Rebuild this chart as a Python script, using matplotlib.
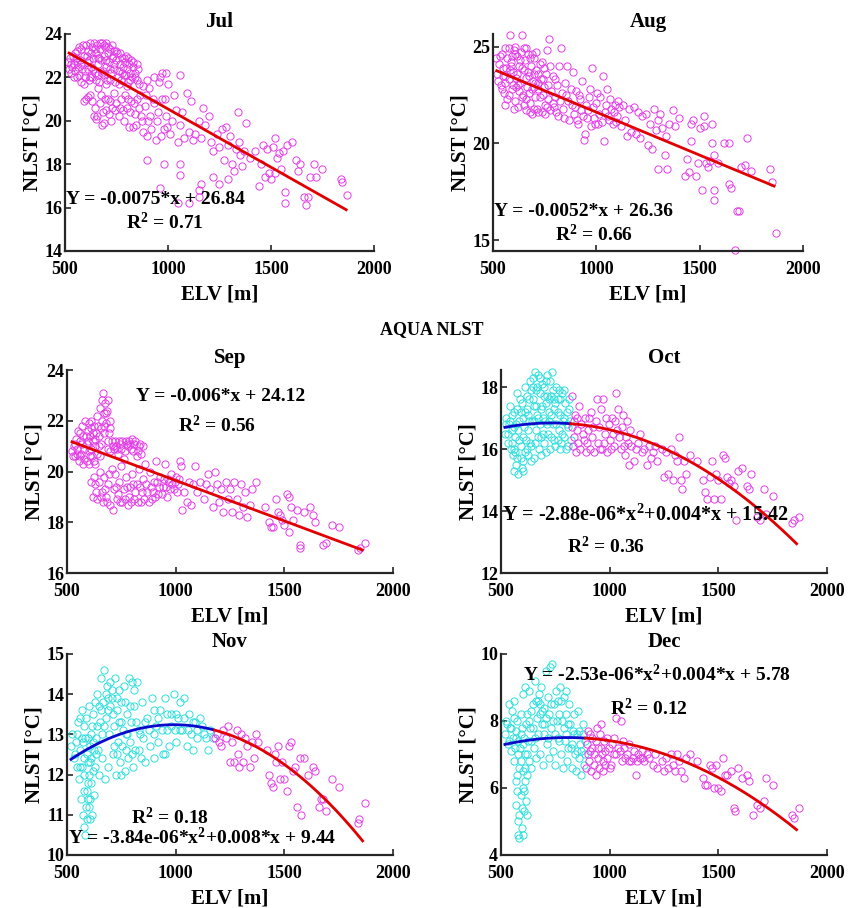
import numpy as np
import matplotlib
matplotlib.use('Agg')
import matplotlib.pyplot as plt

# ---- data (ELV [m], NLST [degC]) ----
JUL_PTS = [(515,22.7),(520,22.4),(525,22.9),(530,22.2),(540,23.0),(545,22.6),(550,22.3),(555,22.9),(560,23.2),(565,22.5),
           (570,22.1),(575,22.8),(580,23.3),(585,22.4),(590,23.0),(595,22.0),(600,23.5),(605,22.7),(610,23.2),(615,21.9),
           (620,23.6),(625,22.5),(630,23.4),(635,22.9),(640,23.6),(645,22.2),(650,23.1),(655,23.5),(660,22.6),(665,21.8),
           (670,23.3),(675,22.8),(680,23.6),(685,22.3),(690,23.0),(695,23.4),(700,22.5),(705,21.9),(710,23.1),(715,22.7),
           (720,23.3),(725,22.2),(730,22.9),(735,23.0),(740,22.4),(745,21.8),(750,22.8),(755,23.1),(760,22.3),(765,22.6),
           (770,21.9),(775,22.9),(780,22.5),(785,22.1),(790,22.7),(795,23.0),(800,22.4),(805,21.8),(810,22.6),(815,22.2),
           (820,22.8),(825,22.0),(830,22.5),(840,22.2),(850,21.9),(855,22.4),(860,21.7),(560,22.0),(590,21.7),(610,22.4),
           (630,22.0),(650,21.9),(665,22.9),(690,22.1),(700,23.6),(720,21.9),(740,23.2),
           (535,22.5),(548,23.1),(558,22.7),(568,23.4),(578,22.6),(588,23.5),(598,22.3),(608,23.0),(618,22.8),(628,23.1),
           (638,22.4),(648,23.3),(658,22.9),(668,23.6),(678,22.2),(688,23.5),(698,22.8),(708,23.4),(718,22.4),(728,23.5),
           (738,22.6),(748,23.2),(758,22.0),(768,23.1),(778,22.2),(788,22.9),(798,22.1),(808,22.9),(818,21.9),(828,22.7),
           (838,22.0),(848,22.6),(620,22.0),(660,22.1),(700,21.7),(760,21.7),(800,21.6),(580,21.8),(545,22.0),(530,22.6),
           (590,20.9),(600,21.0),(620,21.2),(640,20.2),(650,20.1),(660,21.5),(670,20.8),(680,19.8),(690,19.9),(700,20.5),
           (710,21.0),(715,20.3),(720,20.9),(730,20.6),(740,21.3),(750,20.8),(760,20.2),(770,21.0),(780,20.5),(790,21.2),
           (800,20.6),(810,19.7),(820,20.9),(830,19.7),(840,20.3),(850,21.0),(860,20.6),(870,20.2),(880,19.5),(890,20.7),
           (900,19.3),(905,20.0),(910,21.5),(920,19.6),(930,20.8),(940,19.1),(950,20.4),(955,21.8),(960,22.0),(970,21.0),
           (980,19.6),(990,20.2),(1000,21.7),(1010,19.4),(1020,20.0),(1030,21.2),(1040,20.5),(1050,19.0),(1060,22.1),
           (1060,19.8),(1070,20.4),(1080,19.2),(1090,21.3),(1100,19.5),(1110,20.9),(1120,19.1),(1130,19.4),
           (610,21.1),(630,20.9),(645,20.6),(655,20.2),(675,21.2),(685,20.4),(695,21.0),(725,20.0),(745,20.5),(765,20.6),
           (785,20.0),(805,21.0),(815,20.4),(835,20.8),(845,19.8),(865,21.2),(875,20.0),(895,21.2),(915,20.2),(925,21.0),
           (945,20.0),(965,19.3),(985,21.0),(995,19.7),
           (880,21.6),(900,21.9),(930,22.0),(970,22.2),(990,22.2),
           (1150,20.0),(1160,19.2),(1170,20.6),(1180,19.8),(1200,20.2),(1210,19.0),(1220,18.6),(1240,19.4),(1250,18.8),
           (1260,19.6),(1270,18.2),(1280,19.7),(1290,18.9),(1300,19.3),(1310,18.0),(1320,17.7),(1330,18.7),(1340,20.4),
           (1345,19.0),(1350,18.4),(1360,17.9),(1370,18.6),(1380,19.9),(1400,18.3),(1420,18.6),(1440,17.0),(1450,18.0),
           (1460,18.9),(1470,17.4),(1480,18.7),(1490,17.6),(1500,17.3),(1510,18.8),(1520,19.2),(1520,17.6),(1530,18.3),
           (1540,18.5),(1550,17.8),(1560,18.6),(1570,16.7),(1570,16.2),(1580,18.9),(1600,19.0),(1620,18.2),(1630,17.7),
           (1640,18.0),(1660,16.5),(1670,16.1),(1680,16.5),(1690,17.4),(1710,18.0),(1720,17.4),(1750,17.8),(1840,17.3),
           (1845,17.2),(1870,16.6),
           (900,18.2),(980,18.0),(1060,17.5),(1060,18.0),(960,16.9),(1050,16.2),(1100,16.2),(1150,16.5),(1160,17.1),
           (1150,16.8),(1220,17.4),(1250,17.1),(1290,17.3)]

AUG_PTS = [(515,24.4),(520,23.6),(530,24.1),(540,23.0),(545,24.6),(550,23.5),(555,22.6),(560,24.9),(565,23.9),(570,22.3),
           (575,23.3),(580,25.6),(585,24.2),(590,22.8),(595,23.7),(600,24.8),(605,22.2),(610,23.4),(615,24.5),(620,21.9),
           (625,24.0),(630,23.1),(635,24.7),(640,25.6),(645,22.5),(650,23.8),(655,24.3),(660,21.7),(665,22.9),(670,24.6),
           (675,23.5),(680,22.1),(685,24.0),(690,21.5),(695,23.2),(700,24.4),(705,22.4),(710,23.8),(715,21.8),(720,22.8),
           (725,24.1),(730,23.3),(735,21.6),(740,22.5),(745,23.9),(750,22.0),(760,24.8),(765,23.0),(770,25.4),(775,21.7),
           (780,22.7),(790,23.5),(795,21.9),(800,22.4),(560,22.0),(600,21.8),(620,23.0),(660,23.4),(700,21.8),(720,23.6),
           (750,21.5),(640,22.4),(580,23.8),(690,24.6),
           (525,23.2),(535,24.5),(548,23.9),(558,23.1),(568,24.4),(578,22.5),(588,24.0),(598,23.0),(608,24.6),(618,23.6),
           (628,22.7),(638,23.9),(648,24.9),(658,22.3),(668,23.7),(678,24.4),(688,22.8),(698,23.6),(708,24.7),(718,23.1),
           (728,22.4),(738,24.2),(748,22.9),(758,23.6),(768,22.3),(778,24.0),(788,22.1),(798,23.3),(575,24.9),(605,25.0),
           (660,24.9),(700,22.9),(740,23.3),(760,21.9),(720,21.6),(680,21.6),(650,22.0),(610,22.9),(590,24.5),(630,24.3),
           (675,22.6),(705,23.1),(560,23.5),(545,22.8),
           (810,23.0),(815,21.4),(820,24.0),(825,22.2),(830,24.9),(840,21.8),(850,23.1),(855,22.5),(860,24.0),(870,21.2),
           (880,22.0),(885,23.7),(890,21.5),(900,22.7),(910,21.0),(920,22.3),(930,23.2),(935,21.4),(940,20.2),(945,20.5),
           (950,22.0),(960,21.7),(970,22.8),(975,20.9),(980,23.9),(990,21.3),(1000,22.1),(1010,21.0),(1020,22.4),
           (1030,23.5),(1035,20.1),(1040,21.6),(1050,22.8),(1060,21.2),(1070,21.8),(1080,21.0),(1090,22.0),(1100,21.4),
           (805,21.6),(835,22.6),(845,21.3),(865,22.2),(875,22.8),(895,21.9),(905,21.2),(915,22.5),(925,21.7),(955,21.3),
           (965,22.4),(985,21.9),(995,21.0),(1005,22.6),(1015,21.5),(1025,21.1),(1045,22.0),(1055,21.4),(1065,22.3),
           (1085,21.6),(1095,21.1),(1105,22.2),
           (1110,21.9),(1120,20.9),(1130,22.0),(1140,21.2),(1150,20.4),(1160,21.8),(1170,20.6),(1180,21.9),(1190,20.5),
           (1200,21.6),(1210,20.3),(1220,21.4),(1240,21.5),(1250,19.9),(1260,21.0),(1270,19.7),(1280,21.8),(1290,20.7),
           (1300,18.7),(1300,21.2),(1310,21.5),(1320,20.8),(1330,19.4),(1335,20.4),(1340,18.7),(1350,21.0),(1370,21.7),
           (1380,20.9),(1400,21.3),(1430,18.3),(1440,19.2),(1450,18.5),(1460,21.0),(1460,20.1),(1470,21.2),(1480,18.3),
           (1490,19.0),(1500,20.8),(1510,17.6),(1520,21.4),(1520,20.9),(1530,19.0),(1540,18.8),(1550,19.1),(1560,21.0),
           (1560,20.0),(1570,19.4),(1570,17.1),(1570,17.6),(1590,19.0),(1620,20.0),(1640,20.0),(1640,17.9),(1650,17.7),
           (1680,16.5),(1690,16.5),(1700,18.8),(1720,18.9),(1730,20.3),(1750,18.6),(1840,18.7),(1850,18.0),(1870,15.4),
           (1670,14.5)]

SEP_PTS = [(525,20.8),(530,21.0),(535,20.6),(540,21.3),(545,20.9),(550,21.6),(555,20.4),(560,21.2),(565,20.7),(570,21.8),
           (575,21.4),(580,20.5),(585,22.0),(590,21.1),(595,21.6),(600,20.8),(605,21.4),(610,22.0),(615,20.6),(620,21.2),
           (625,21.8),(630,20.3),(635,21.5),(640,22.2),(645,21.0),(650,22.5),(655,21.7),(660,22.8),(665,23.1),(670,22.3),
           (675,22.7),(680,21.9),(685,22.4),(690,22.8),(695,21.5),(700,22.0),(590,20.4),(610,20.9),(630,21.0),(560,20.6),
           (600,21.9),
           (528,20.6),(538,21.1),(548,20.7),(558,21.5),(568,21.1),(578,20.9),(588,21.4),(598,21.2),(608,20.6),(618,21.5),
           (628,21.3),(638,20.7),(648,21.4),(658,21.1),(668,21.8),(678,22.3),(688,21.2),(698,21.7),(612,21.7),(622,20.4),
           (642,21.8),(602,20.3),(572,20.3),(652,20.6),(662,22.0),(672,21.5),
           (705,21.2),(715,20.9),(725,21.0),(735,20.7),(745,21.1),(755,21.2),(765,20.8),(775,21.1),(785,21.2),(795,20.9),
           (800,21.3),(810,21.1),(820,20.6),(830,21.0),(840,20.7),(850,21.0),(760,20.5),
           (710,21.0),(720,21.2),(730,20.9),(740,21.2),(750,20.9),(770,21.2),(780,21.0),(790,21.1),(805,20.8),(815,21.2),
           (825,20.8),(835,21.1),(700,20.8),(690,20.9),
           (610,19.6),(620,19.0),(630,19.5),(640,18.9),(650,20.0),(660,19.2),(665,18.8),(670,19.8),(680,19.0),(690,19.5),
           (700,18.7),(705,20.1),(710,18.5),(715,19.3),(720,19.9),(730,18.9),(740,19.6),(750,20.2),(755,18.8),(760,19.3),
           (770,19.8),(780,18.7),(790,19.4),(800,19.9),(810,18.9),(820,19.5),(830,20.1),(840,18.8),(850,19.7),(860,20.3),
           (870,19.2),(880,20.0),(890,18.9),(900,19.6),(910,20.4),(920,19.1),(930,19.8),(940,19.4),(950,20.3),(960,19.0),
           (625,19.8),(635,19.2),(645,19.6),(655,19.0),(675,19.3),(685,18.8),(695,19.9),(725,19.4),(735,19.1),(745,18.8),
           (765,18.9),(775,19.4),(785,19.0),(795,18.8),(805,19.5),(815,19.2),(825,18.8),(835,19.4),(845,19.2),(855,18.9),
           (865,19.5),(875,18.8),(885,19.4),(895,19.2),(905,19.0),(915,19.6),(925,19.4),(935,19.1),(945,19.7),(955,19.4),
           (965,19.7),(975,19.3),(985,19.5),(995,19.6),(1005,19.2),(1015,19.7),
           (970,19.6),(980,19.9),(990,19.3),(1000,19.8),(1010,19.5),(1020,20.4),(1025,20.2),(1030,18.5),(1040,19.2),
           (1050,18.8),(1060,19.6),(1070,18.7),(1080,19.5),(1090,20.2),(1100,19.2),(1110,19.6),(1130,18.9),(1140,19.5),
           (1150,19.9),(1160,19.3),(1170,18.6),(1180,20.0),(1190,19.5),(1200,18.8),(1210,19.3),(1220,18.4),(1230,19.6),
           (1240,18.9),(1250,19.3),(1260,18.4),(1270,19.6),(1280,18.9),(1290,18.3),(1300,19.5),(1310,18.6),(1320,19.2),
           (1330,18.2),(1340,18.7),(1350,19.3),(1370,19.6),(1410,18.6),(1430,18.0),(1440,17.8),(1450,17.8),(1460,18.9),
           (1470,18.4),(1480,18.3),(1490,18.1),(1500,17.9),(1510,19.1),(1520,19.0),(1520,17.6),(1530,18.6),(1540,18.1),
           (1560,18.5),(1570,17.0),(1570,17.1),(1590,18.4),(1620,18.6),(1630,18.3),(1640,18.0),(1680,17.1),(1690,17.2),
           (1720,17.9),(1750,17.8),(1840,16.9),(1850,17.0),(1870,17.2)]

OCT_CYAN = [(520,16.5),(525,17.0),(530,16.2),(535,16.8),(540,17.4),(545,16.0),(550,16.6),(555,15.8),(560,17.2),(565,16.4),
            (570,15.5),(575,17.8),(580,15.2),(585,16.9),(590,16.1),(595,17.5),(600,15.6),(605,16.7),(610,18.0),(615,16.3),
            (620,17.3),(625,15.8),(630,16.9),(635,18.2),(640,16.1),(645,17.6),(650,15.7),(655,18.5),(660,16.6),(665,17.1),
            (670,18.4),(675,16.0),(680,17.8),(685,16.4),(690,18.1),(695,17.0),(700,16.2),(705,17.5),(710,18.4),(715,16.5),
            (720,17.2),(725,16.0),(730,17.7),(735,18.5),(740,16.8),(745,17.3),(750,16.1),(755,18.0),(760,17.6),(765,16.6),
            (770,17.1),(775,16.2),(780,17.8),(785,16.9),(790,16.4),(795,17.5),(800,16.0),(805,17.2),(810,16.7),(815,17.6),
            (820,16.3),(560,16.0),(580,16.6),(600,17.0),(620,16.0),(640,17.9),(660,17.4),(680,16.8),(700,17.7),(720,16.9),
            (740,17.9),(760,16.3),(790,17.9),(810,16.1),(590,17.2),(610,15.9),(630,17.6),(650,16.9),(670,16.4),(690,17.4),
            (710,16.8),(730,16.4),(750,17.5),(770,16.0),(550,17.1),(570,16.8),(600,15.3),(625,17.1),(655,16.2),(645,18.3),
            (665,18.0),(700,18.0),(725,18.2),(705,15.9),(685,15.8),(640,15.6),(560,15.3),
            (522,16.8),(532,16.5),(542,16.9),(552,16.2),(562,16.7),(572,17.3),(582,16.3),(592,15.7),(602,16.4),(612,17.2),
            (622,16.6),(632,16.2),(642,16.9),(652,17.4),(662,17.9),(672,17.0),(682,17.3),(692,16.5),(702,16.9),(712,17.7),
            (722,17.6),(732,17.1),(742,16.3),(752,16.8),(762,17.2),(772,17.6),(782,16.5),(792,17.0),(802,16.8),(812,17.3),
            (818,16.9),(588,17.6),(618,17.7),(648,18.0),(678,18.3),(708,18.2),(742,17.6),(768,17.9),(595,15.4),(575,15.7),
            (565,15.9)]

OCT_MAG = [(825,17.7),(830,16.1),(835,16.9),(840,17.1),(845,15.9),(850,16.6),(860,17.4),(865,16.0),(870,16.8),(880,16.3),
           (885,17.0),(890,15.9),(900,16.6),(910,16.0),(915,17.2),(920,16.4),(930,15.9),(935,16.9),(940,17.6),(945,16.2),
           (950,16.7),(960,17.3),(965,16.0),(970,17.6),(980,16.5),(985,17.0),(990,15.9),(1000,16.3),(1010,17.0),(1020,16.1),
           (1030,17.8),(1035,16.6),(1040,17.3),(1050,16.0),(1060,17.1),(1070,15.8),(1075,16.4),(1080,16.9),(1090,15.5),
           (828,16.7),(838,16.4),(848,17.0),(855,16.2),(875,16.5),(895,16.2),(905,17.0),(925,16.7),(955,16.0),(975,16.2),
           (995,16.8),(1005,16.0),(1015,16.5),(1025,16.9),(1045,16.4),(1055,16.7),(1065,16.1),(1085,16.2),(1095,16.6),
           (1120,16.0),
           (1100,16.1),(1110,15.6),(1130,16.2),(1140,16.5),(1150,15.9),(1160,16.0),(1170,15.5),(1180,16.1),(1190,15.7),
           (1200,15.9),(1210,16.1),(1220,15.6),(1240,16.0),(1250,15.1),(1260,15.9),(1270,15.2),(1280,16.0),(1290,15.0),
           (1300,15.8),(1310,15.6),(1320,16.4),(1330,15.0),(1335,14.7),(1340,15.6),(1350,15.2),(1370,15.8),(1400,15.6),
           (1430,15.0),(1440,14.6),(1450,14.4),(1460,15.1),(1470,15.6),(1480,14.4),(1490,15.2),(1500,15.0),(1510,14.4),
           (1520,15.8),(1530,15.7),(1540,15.1),(1550,14.9),(1560,15.0),(1570,14.8),(1580,13.7),(1590,15.3),(1610,15.4),
           (1630,14.8),(1640,14.7),(1650,15.2),(1680,13.8),(1690,13.7),(1710,14.7),(1720,13.9),(1750,14.5),(1840,13.6),
           (1850,13.7),(1870,13.8)]

NOV_CYAN = [(520,12.7),(525,13.0),(530,12.4),(540,12.8),(545,12.2),(550,13.3),(555,11.9),(560,12.6),(565,11.4),(570,13.6),
            (575,11.0),(580,12.0),(580,10.7),(585,12.9),(590,11.6),(590,10.9),(595,12.3),(600,13.7),(600,11.2),(605,12.7),
            (610,11.8),(615,13.2),(620,12.1),(625,11.5),(630,13.8),(635,12.5),(640,14.0),(645,12.0),(650,13.3),(655,14.4),
            (660,12.4),(665,13.8),(670,14.6),(675,11.9),(680,13.4),(685,14.2),(690,12.2),(695,13.0),(700,13.7),(705,14.1),
            (710,12.5),(715,13.2),(720,14.4),(725,12.0),(730,13.6),(735,12.8),(740,14.1),(745,12.3),(750,13.3),(755,12.7),
            (760,14.2),(765,12.1),(770,13.0),(775,13.5),(780,12.4),(785,14.4),(790,12.8),(795,13.3),(800,14.3),(805,12.2),
            (810,13.7),(815,12.6),(820,14.3),(830,13.1),(840,12.4),(845,13.8),(850,12.9),(860,12.3),(870,13.4),(880,12.7),
            (890,13.9),(900,12.4),(910,13.2),(920,12.8),(930,13.6),(940,12.5),(950,13.9),(960,13.1),(970,12.7),(980,13.5),
            (990,14.0),(1000,12.8),(1010,13.4),(1020,13.8),(1030,13.1),(1040,13.9),(1050,12.7),(1060,13.5),(1070,13.0),
            (1080,12.6),(1090,13.3),(1100,12.9),(1110,13.4),(1130,13.0),(1150,12.6),(1160,13.1),(1170,12.9),
            (590,12.5),(600,12.0),(610,13.0),(570,12.2),(580,13.2),(620,13.5),(560,13.4),(595,11.4),(605,10.9),(615,11.0),
            (585,10.5),(660,13.0),(690,13.9),(710,13.5),(730,12.5),(750,12.0),(770,12.6),(830,12.6),(900,13.0),(950,12.5),
            (1000,13.5),
            (535,12.5),(548,13.0),(558,12.2),(568,12.9),(578,12.4),(588,13.4),(598,12.9),(608,12.3),(618,12.8),(628,12.2),
            (638,13.2),(648,13.7),(658,13.6),(668,13.2),(678,14.0),(688,13.6),(698,14.3),(708,13.9),(718,12.7),(728,13.9),
            (738,13.3),(748,13.8),(758,13.1),(768,13.8),(778,13.0),(788,13.7),(798,12.5),(808,14.1),(818,13.3),(838,13.0),
            (858,13.3),(878,13.1),(898,13.6),(918,13.4),(938,13.1),(958,13.5),(978,13.2),(998,13.1),(1018,13.1),(1038,13.4),
            (1058,13.1),(1078,13.3),(1098,13.1),(1120,13.2),(1140,12.9),(598,11.8),(608,11.4),(612,12.4),(588,11.2),
            (578,11.6),(622,12.6),(632,12.9),(642,12.6),(572,12.8)]

NOV_MAG = [(1180,12.9),(1190,13.0),(1200,12.8),(1210,12.7),(1220,13.1),(1230,12.9),(1240,13.2),(1250,12.3),(1260,12.8),
           (1270,12.3),(1280,13.1),(1285,12.5),(1290,12.2),(1300,13.0),(1310,12.3),(1320,12.9),(1330,12.7),(1340,12.2),
           (1350,12.8),(1360,12.4),(1370,13.0),(1380,12.8),(1420,12.6),(1430,12.0),(1440,11.8),(1450,11.7),(1455,12.5),
           (1460,12.3),(1470,12.7),(1480,11.9),(1490,12.3),(1500,11.9),(1510,11.6),(1520,12.7),(1530,12.8),(1540,12.1),
           (1550,12.2),(1560,11.2),(1570,12.4),(1575,11.0),(1590,12.4),(1610,12.0),(1630,12.2),(1640,12.1),(1660,11.2),
           (1670,11.4),(1680,11.4),(1690,11.1),(1720,11.9),(1750,11.7),(1840,10.8),(1845,10.9),(1870,11.3)]

DEC_CYAN = [(520,7.6),(525,8.0),(530,7.3),(535,8.5),(540,7.8),(545,7.1),(550,8.3),(555,7.5),(560,6.8),(560,8.6),(565,7.2),
            (570,6.2),(570,5.5),(575,8.0),(580,5.0),(580,4.6),(585,6.6),(590,7.6),(590,5.8),(595,4.8),(600,8.8),(600,6.0),
            (605,5.3),(610,7.0),(610,9.0),(615,5.6),(620,6.4),(620,8.2),(625,7.4),(630,6.8),(630,8.9),(635,7.8),(640,6.6),
            (645,8.5),(650,7.2),(655,9.2),(660,6.9),(665,8.1),(670,7.6),(675,8.8),(680,7.0),(685,9.0),(690,7.9),(695,6.7),
            (700,8.4),(705,9.5),(710,7.3),(715,8.7),(720,6.9),(725,9.6),(730,7.8),(735,9.7),(740,7.1),(745,8.5),(750,6.7),
            (755,8.9),(760,7.5),(765,8.2),(770,9.0),(775,7.0),(780,8.0),(785,6.6),(790,8.7),(795,7.4),(800,8.9),(805,6.8),
            (810,7.9),(815,8.5),(820,7.2),(825,6.6),(830,7.7),(835,8.2),(840,7.0),(845,6.5),(850,7.6),(855,8.3),(860,6.9),
            (865,7.3),(870,6.4),(875,7.9),(880,6.7),(885,7.4),(580,7.0),(590,8.2),(600,7.3),(615,7.9),(640,7.4),(660,8.6),
            (680,8.2),(700,7.6),(720,8.2),(760,8.6),(800,7.6),(600,4.6),(585,4.5),(575,5.9),(610,6.2),(620,5.2),
            (528,7.9),(538,7.4),(548,7.8),(558,8.1),(568,7.7),(578,7.4),(588,7.2),(598,7.8),(608,7.5),(618,7.0),(628,8.0),
            (638,8.3),(648,7.8),(658,7.5),(668,8.6),(678,8.5),(688,8.3),(698,7.9),(708,8.1),(718,7.5),(728,8.5),(738,8.0),
            (748,7.6),(758,8.0),(768,7.4),(778,8.6),(788,7.8),(798,8.2),(808,7.2),(818,7.9),(828,7.3),(838,7.6),(848,7.1),
            (858,7.7),(868,7.1),(878,7.6),(888,7.0),(590,6.8),(600,6.5),(605,5.9),(595,5.4),(585,5.2),(612,6.6),(575,6.4),
            (568,7.5)]

DEC_MAG = [(890,6.6),(895,7.3),(900,7.7),(905,6.8),(910,7.1),(915,6.5),(920,7.5),(930,7.0),(935,6.4),(940,7.8),(945,7.2),
           (950,6.6),(955,7.6),(960,7.9),(965,7.0),(970,6.5),(975,7.4),(980,7.1),(990,6.9),(1000,6.6),(1010,7.3),(1020,7.0),
           (898,7.0),(908,7.6),(918,7.2),(928,6.7),(938,7.4),(948,6.9),(958,7.2),(968,6.8),(978,6.7),(988,7.5),(998,7.2),
           (1008,6.7),(1018,7.5),(1028,7.0),(1048,7.1),(1068,7.2),(1088,6.8),(1108,6.9),(1128,6.8),(1148,6.9),
           (1030,8.1),(1040,7.2),(1050,8.0),(1055,6.8),(1060,7.4),(1070,6.9),(1080,7.0),(1090,7.3),(1100,6.8),(1110,7.1),
           (1120,6.4),(1130,7.0),(1140,6.9),(1150,7.1),(1160,6.8),(1170,7.0),(1180,6.9),(1200,6.7),(1210,7.0),(1220,6.6),
           (1240,6.8),(1250,6.5),(1260,6.9),(1270,6.6),(1280,7.0),(1290,6.7),(1300,6.5),(1310,7.0),(1320,6.8),(1330,6.5),
           (1340,6.3),(1350,6.9),(1370,7.0),(1400,6.8),(1430,6.3),(1440,6.1),(1450,6.1),(1460,6.7),(1470,6.6),(1480,6.0),
           (1490,6.7),(1500,6.0),(1510,5.9),(1520,6.9),(1530,6.4),(1540,6.4),(1560,6.5),(1570,5.4),(1575,5.3),(1590,6.6),
           (1610,6.3),(1630,6.4),(1640,6.2),(1660,5.2),(1680,5.5),(1690,5.4),(1710,5.6),(1720,6.3),(1750,6.1),(1840,5.2),
           (1850,5.1),(1870,5.4)]

# fitted curves, read at a few points along each line
JUL_FIT_X, JUL_FIT_Y = [520, 1865], [23.12, 15.9]
AUG_FIT_X, AUG_FIT_Y = [518, 1860], [23.75, 17.8]
SEP_FIT_X, SEP_FIT_Y = [523, 1858], [21.17, 16.91]
OCT_FIT_X, OCT_FIT_Y = [518, 700, 820, 1250, 1500, 1860], [16.73, 16.82, 16.79, 16.0, 15.1, 12.92]
NOV_FIT_X, NOV_FIT_Y = [518, 1000, 1175, 1500, 1860], [12.38, 13.23, 13.12, 12.25, 10.35]
DEC_FIT_X, DEC_FIT_Y = [518, 800, 885, 1500, 1860], [7.27, 7.53, 7.52, 6.26, 4.78]

YTICKS = {'Jul': [14, 16, 18, 20, 22, 24], 'Aug': [15, 20, 25], 'Sep': [16, 18, 20, 22, 24],
          'Oct': [12, 14, 16, 18], 'Nov': [10, 11, 12, 13, 14, 15], 'Dec': [4, 6, 8, 10]}
YLIMS = {'Jul': (14, 24), 'Aug': (14.45, 25.65), 'Sep': (16, 24),
         'Oct': (12, 18.55), 'Nov': (10, 15), 'Dec': (4, 10)}

MAG = '#e23ee6'
CYA = '#30dede'
RED = '#e00000'
BLUE = '#0a0acc'

plt.rcParams['font.family'] = 'Liberation Serif'
plt.rcParams['font.weight'] = 'bold'
plt.rcParams['mathtext.fontset'] = 'custom'
plt.rcParams['mathtext.rm'] = 'Liberation Serif:bold'
plt.rcParams['mathtext.it'] = 'Liberation Serif:bold'
plt.rcParams['mathtext.bf'] = 'Liberation Serif:bold'


def scatter(ax, pts, color):
    pts = np.array(pts)
    ax.plot(pts[:, 0], pts[:, 1], 'o', ms=5.2, mfc='none', mec=color, mew=0.7, clip_on=False, zorder=2)


def fit_line(ax, fx, fy, deg, split=None):
    coef = np.polyfit(fx, fy, deg)
    xs = np.linspace(min(fx), max(fx), 200)
    ys = np.polyval(coef, xs)
    if split is None:
        ax.plot(xs, ys, color=RED, lw=2, zorder=3)
    else:
        lo = xs <= split
        ax.plot(xs[lo], ys[lo], color=BLUE, lw=2, zorder=3)
        hi = xs >= split
        ax.plot(xs[hi], ys[hi], color=RED, lw=2, zorder=3)


def style(ax, name):
    ax.set_xlim(500, 2000)
    ax.set_ylim(*YLIMS[name])
    ax.set_xticks([500, 1000, 1500, 2000])
    ax.set_yticks(YTICKS[name])
    for s in ['top', 'right']:
        ax.spines[s].set_visible(False)
    for s in ['left', 'bottom']:
        ax.spines[s].set_linewidth(1.6)
        ax.spines[s].set_color('#262626')
    ax.tick_params(direction='in', length=4, width=1.2, colors='#262626', labelsize=13)
    ax.tick_params(axis='x', pad=7)
    ax.tick_params(axis='y', pad=2)
    for lab in ax.get_xticklabels() + ax.get_yticklabels():
        lab.set_color('black')
        lab.set_fontweight('bold')
    ax.set_title(name, fontsize=15, fontweight='bold', pad=5)
    ax.set_xlabel('ELV [m]', fontsize=15, fontweight='bold', labelpad=5)
    ax.set_ylabel('NLST [°C]', fontsize=15, fontweight='bold', labelpad=1)


fig = plt.figure(figsize=(8.57, 9.08), dpi=100)

ax = fig.add_axes([0.0758, 0.7236, 0.3606, 0.2390])
scatter(ax, JUL_PTS, MAG)
fit_line(ax, JUL_FIT_X, JUL_FIT_Y, 1)
style(ax, 'Jul')
ax.text(505, 16.35, 'Y = -0.0075*x + 26.84', fontsize=14, ha='left', va='center')
ax.text(985, 15.3, 'R$^2$ = 0.71', fontsize=14, ha='center', va='center')

ax = fig.add_axes([0.5753, 0.7236, 0.3617, 0.2390])
scatter(ax, AUG_PTS, MAG)
fit_line(ax, AUG_FIT_X, AUG_FIT_Y, 1)
style(ax, 'Aug')
ax.text(505, 16.5, 'Y = -0.0052*x + 26.36', fontsize=14, ha='left', va='center')
ax.text(990, 15.3, 'R$^2$ = 0.66', fontsize=14, ha='center', va='center')

ax = fig.add_axes([0.0782, 0.3689, 0.3804, 0.2236])
scatter(ax, SEP_PTS, MAG)
fit_line(ax, SEP_FIT_X, SEP_FIT_Y, 1)
style(ax, 'Sep')
ax.text(1206, 22.95, 'Y = -0.006*x + 24.12', fontsize=14, ha='center', va='center')
ax.text(1190, 21.82, 'R$^2$ = 0.56', fontsize=14, ha='center', va='center')

ax = fig.add_axes([0.5846, 0.3689, 0.3804, 0.2236])
scatter(ax, OCT_CYAN, CYA)
scatter(ax, OCT_MAG, MAG)
fit_line(ax, OCT_FIT_X, OCT_FIT_Y, 2, split=820)
style(ax, 'Oct')
ax.text(505, 13.86, 'Y = -2.88e-06*x$^2$+0.004*x + 15.42', fontsize=14.5, ha='left', va='center', zorder=5)
ax.text(981, 12.86, 'R$^2$ = 0.36', fontsize=14, ha='center', va='center')

ax = fig.add_axes([0.0782, 0.0584, 0.3804, 0.2214])
scatter(ax, NOV_CYAN, CYA)
scatter(ax, NOV_MAG, MAG)
fit_line(ax, NOV_FIT_X, NOV_FIT_Y, 2, split=1175)
style(ax, 'Nov')
ax.text(974, 10.92, 'R$^2$ = 0.18', fontsize=14, ha='center', va='center')
ax.text(503, 10.43, 'Y = -3.84e-06*x$^2$+0.008*x + 9.44', fontsize=14, ha='left', va='center', zorder=5)

ax = fig.add_axes([0.5846, 0.0584, 0.3804, 0.2214])
scatter(ax, DEC_CYAN, CYA)
scatter(ax, DEC_MAG, MAG)
fit_line(ax, DEC_FIT_X, DEC_FIT_Y, 2, split=885)
style(ax, 'Dec')
ax.text(601, 9.39, 'Y = -2.53e-06*x$^2$+0.004*x + 5.78', fontsize=14, ha='left', va='center', zorder=5)
ax.text(1181, 8.38, 'R$^2$ = 0.12', fontsize=14, ha='center', va='center')

fig.text(0.504, 1 - 330 / 908, 'AQUA NLST', fontsize=13, fontweight='bold', ha='center', va='center')

fig.savefig('out.png', dpi=100)
